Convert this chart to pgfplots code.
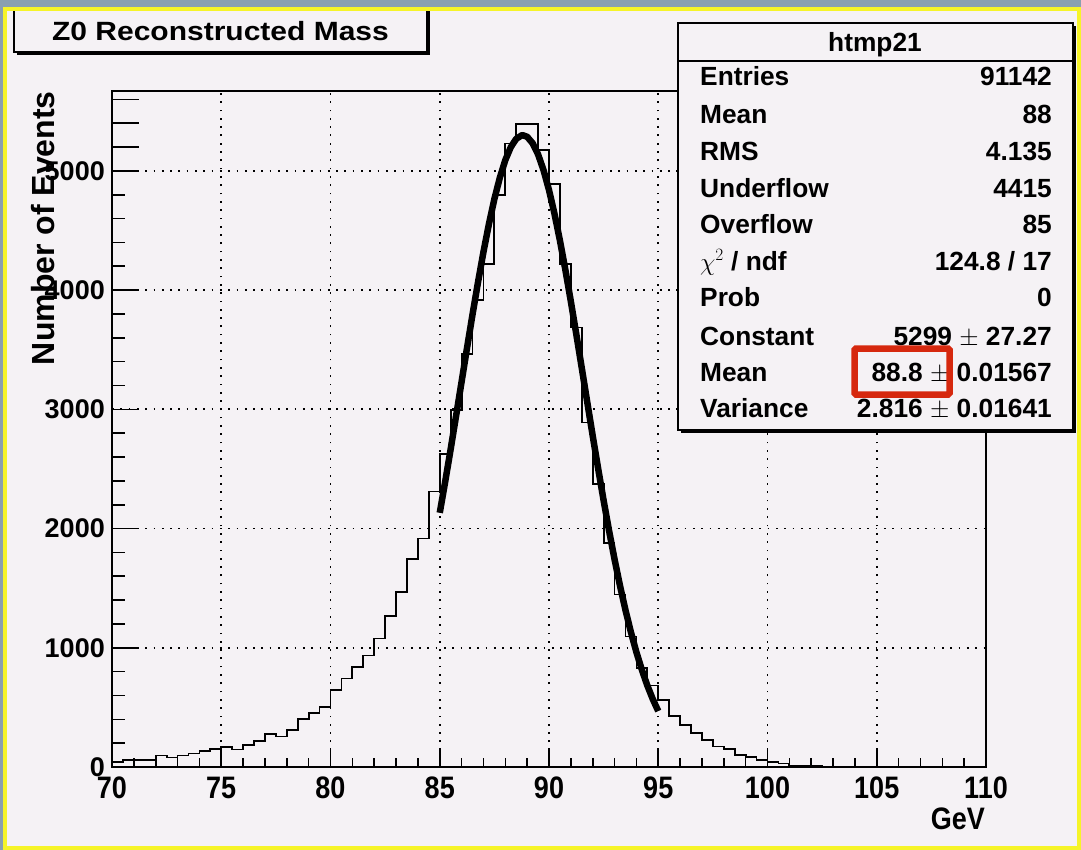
\documentclass[border=0pt]{standalone}
\usepackage{fontspec}
\setmainfont{Liberation Sans}
\usepackage{pgfplots}
\pgfplotsset{compat=1.18}
\usepackage{graphicx}

\definecolor{canvas}{RGB}{245,242,245}
\definecolor{desk}{RGB}{138,160,176}
\definecolor{rim}{RGB}{246,244,40}
\definecolor{boxred}{RGB}{214,40,14}

\newcommand\statfont{\fontsize{26.3}{30}\selectfont\bfseries}
\newcommand\tickfont{\fontsize{27}{30}\selectfont\bfseries}

% Z0 mass histogram: 80 bins of 0.5 GeV, left edge and content
\pgfplotstableread{
x    n
70.0 42
70.5 56
71.0 56
71.5 56
72.0 97
72.5 80
73.0 97
73.5 114
74.0 136
74.5 153
75.0 167
75.5 147
76.0 186
76.5 219
77.0 275
77.5 256
78.0 311
78.5 403
79.0 453
79.5 506
80.0 647
80.5 742
81.0 842
81.5 936
82.0 1078
82.5 1264
83.0 1470
83.5 1742
84.0 1917
84.5 2311
85.0 2628
85.5 2995
86.0 3465
86.5 3915
87.0 4222
87.5 4795
88.0 5230
88.5 5390
89.0 5396
89.5 5178
90.0 4887
90.5 4220
91.0 3686
91.5 2890
92.0 2373
92.5 1880
93.0 1447
93.5 1094
94.0 829
94.5 684
95.0 560
95.5 429
96.0 354
96.5 284
97.0 228
97.5 172
98.0 152
98.5 102
99.0 83
99.5 60
100.0 41
100.5 29
101.0 12
101.5 10
102.0 8
102.5 0
103.0 0
103.5 0
104.0 0
104.5 0
105.0 0
105.5 0
106.0 0
106.5 0
107.0 0
107.5 0
108.0 0
108.5 0
109.0 0
109.5 0
110.0 0
}\zmass

% Gaussian fit (Constant 5299, Mean 88.8, sigma 2.816) sampled over 85-95 GeV
\pgfplotstableread{
x     f
85.00 2132
85.25 2394
85.50 2667
85.75 2948
86.00 3232
86.25 3517
86.50 3796
86.75 4065
87.00 4320
87.25 4554
87.50 4764
87.75 4943
88.00 5090
88.25 5199
88.50 5269
88.75 5298
88.80 5299
89.00 5286
89.25 5232
89.50 5138
89.75 5006
90.00 4839
90.25 4641
90.50 4416
90.75 4169
91.00 3905
91.25 3629
91.50 3346
91.75 3061
92.00 2778
92.25 2502
92.50 2235
92.75 1981
93.00 1742
93.25 1520
93.50 1316
93.75 1130
94.00 963
94.25 815
94.50 683
94.75 569
95.00 469
}\gausfit

\begin{document}
\begin{tikzpicture}
\begin{scope}[x=1pt,y=-1pt]
  \fill[desk] (0,0) rectangle (1081,850);
  \fill[canvas] (5,9) rectangle (1079,848);
\end{scope}

\begin{axis}[
  at={(112pt,-767pt)}, anchor=south west,
  scale only axis, width=874pt, height=676pt,
  xmin=70, xmax=110, ymin=0, ymax=5670,
  axis line style={black, line width=2pt},
  xtick={70,75,...,110}, ytick={0,1000,...,5000},
  minor x tick num=4, minor y tick num=4,
  extra y ticks={5200,5400,5600},
  extra y tick labels={},
  extra y tick style={grid=none, major tick length=13pt},
  tick align=inside, xtick pos=left, ytick pos=left,
  xtick style={black, line width=1.6pt, /pgfplots/major tick length=19pt, /pgfplots/minor tick length=9pt},
  ytick style={black, line width=1.6pt, /pgfplots/major tick length=27pt, /pgfplots/minor tick length=13pt},
  grid=major,
  major grid style={black, line width=1.7pt, dash pattern=on 1.7pt off 6.6pt},
  scaled ticks=false,
  xticklabel={\scalebox{1}[1.15]{\pgfmathprintnumber[assume math mode=true]{\tick}}},
  yticklabel={\pgfmathprintnumber[assume math mode=true,1000 sep={}]{\tick}},
  xticklabel style={font=\tickfont, anchor=north, inner sep=0pt, yshift=-10pt},
  yticklabel style={font=\tickfont, anchor=east, inner sep=0pt, xshift=-7pt},
]
\addplot[const plot, black, line width=1.8pt] table[x=x, y=n] {\zmass};
\addplot[black, line width=6.5pt, line join=round] table[x=x, y=f] {\gausfit};
\end{axis}

\begin{scope}[x=1pt,y=-1pt]
  % title pave with shadow
  \fill[black] (17,11) rectangle (430,55);
  \filldraw[fill=canvas, draw=black, line width=1.5pt] (14,8) rectangle (427,52);
  \node[anchor=base, inner sep=0pt] at (220.5,40.5)
    {\scalebox{1}[0.88]{\fontsize{30}{32}\selectfont\bfseries Z0 Reconstructed Mass}};

  % axis titles
  \node[rotate=90, anchor=base east, inner sep=0pt] at (54,91)
    {\fontsize{32}{34}\selectfont\bfseries Number of Events};
  \node[anchor=base east, inner sep=0pt] at (985,829)
    {\scalebox{1}[1.15]{\fontsize{27}{30}\selectfont\bfseries GeV}};

  % statistics box
  \fill[black] (681,26) rectangle (1076,433);
  \filldraw[fill=canvas, draw=black, line width=1.5pt] (678,23) rectangle (1073,430);
  \draw[black, line width=1.5pt] (678,61) -- (1073,61);
  \node[anchor=base, inner sep=0pt] at (875,51.7) {\statfont htmp21};
  \begin{scope}[every node/.style={inner sep=0pt}]
    \node[anchor=base west] at (700,86)    {\statfont Entries};
    \node[anchor=base east] at (1052,86)   {\statfont 91142};
    \node[anchor=base west] at (700,123.3) {\statfont Mean};
    \node[anchor=base east] at (1052,123.3){\statfont 88};
    \node[anchor=base west] at (700,160.7) {\statfont RMS};
    \node[anchor=base east] at (1052,160.7){\statfont 4.135};
    \node[anchor=base west] at (700,197.3) {\statfont Underflow};
    \node[anchor=base east] at (1052,197.3){\statfont 4415};
    \node[anchor=base west] at (700,233.3) {\statfont Overflow};
    \node[anchor=base east] at (1052,233.3){\statfont 85};
    \node[anchor=base west] at (700,270)   {\statfont $\chi^{2}$ / ndf};
    \node[anchor=base east] at (1052,270)  {\statfont 124.8 / 17};
    \node[anchor=base west] at (700,306.7) {\statfont Prob};
    \node[anchor=base east] at (1052,306.7){\statfont 0};
    \node[anchor=base west] at (700,345)   {\statfont Constant};
    \node[anchor=base east] at (1052,345)  {\statfont 5299 $\pm$ 27.27};
    \node[anchor=base west] at (700,381.7) {\statfont Mean};
    \node[anchor=base east] at (1052,381.7){\statfont 88.8 $\pm$ 0.01567};
    \node[anchor=base west] at (700,417.7) {\statfont Variance};
    \node[anchor=base east] at (1052,417.7){\statfont 2.816 $\pm$ 0.01641};
  \end{scope}

  % highlight around the fitted mean
  \draw[boxred, line width=6.5pt, rounded corners=1.5pt] (854.5,348.5) rectangle (949.5,394.5);

  % yellow window rim
  \draw[rim, line width=3.5pt] (5,9) rectangle (1079,848);
\end{scope}
\pgfresetboundingbox
\useasboundingbox (0,0) rectangle (1081pt,-850pt);
\end{tikzpicture}
\end{document}
